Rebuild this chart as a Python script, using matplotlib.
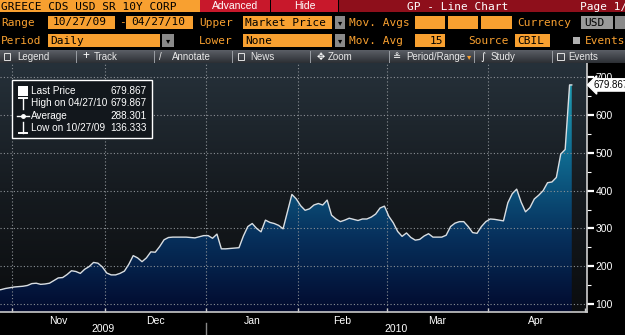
import numpy as np
import pandas as pd
import matplotlib
matplotlib.use("Agg")
import matplotlib.pyplot as plt
from matplotlib.patches import Rectangle
from matplotlib.colors import LinearSegmentedColormap

# Greece CDS USD SR 10Y, daily (business days) 10/27/09 - 04/27/10
start, end = "2009-10-27", "2010-04-27"
prices = [
    136.3, 138, 141, 143, 145, 146, 147, 149, 154, 155,
    152, 153, 155, 162, 169, 170, 178, 188, 186, 181,
    192, 199, 210, 208, 198, 182, 177, 177, 181, 187,
    205, 228, 222, 212, 222, 238, 237, 252, 270, 276,
    277, 277, 277, 277, 276, 275, 278, 281, 281, 274,
    285, 246, 246, 247, 248, 249, 280, 305, 313, 300,
    291, 322, 316, 313, 308, 299, 345, 390, 378, 360,
    348, 352, 362, 366, 362, 375, 335, 325, 318, 322,
    327, 324, 321, 325, 325, 330, 338, 354, 359, 332,
    315, 292, 279, 288, 276, 269, 271, 280, 286, 277,
    277, 277, 282, 305, 314, 318, 318, 305, 289, 287,
    305, 318, 325, 324, 322, 320, 368, 392, 404, 370,
    344, 355, 378, 388, 400, 421, 423, 435, 497, 509, 679.867,
]
month_names = ["Nov", "Dec", "Jan", "Feb", "Mar", "Apr"]
years = ["2009", "2010"]
y_ticks = [100, 200, 300, 400, 500, 600, 700]
legend_rows = [("Last Price", "679.867"), ("High on 04/27/10", "679.867"),
               ("Average", "288.301"), ("Low on 10/27/09", "136.333")]

ORANGE = "#f8a030"
W, H = 625, 335
mono = "DejaVu Sans Mono"
sans = "Liberation Sans"

days = pd.bdate_range(start, "2010-04-30")
idx = np.arange(len(prices))
y = np.array(prices)

# month boundaries (half a day before first business day of month)
firsts = [i for i in range(1, len(days)) if days[i].month != days[i - 1].month]
bounds = [f - 0.5 for f in firsts] + [len(days) - 0.5]
centers = [(bounds[k] + bounds[k + 1]) / 2 for k in range(len(bounds) - 1)]

px = 4.41  # pixels per business day
x0 = bounds[0] - 12 / px
x1 = bounds[-1] + 2 / px
ylo, yhi = 78.8, 737.9

fig = plt.figure(figsize=(W / 100, H / 100), dpi=100, facecolor="black")

def fpos(l, t, r, b):
    return [l / W, 1 - b / H, (r - l) / W, (b - t) / H]

ax = fig.add_axes(fpos(0, 63, 587, 312))
ax.set_facecolor("#0c0e10")

bg = LinearSegmentedColormap.from_list("bg", ["#0b0d0f", "#161b20", "#26313a"])
grad = np.linspace(0, 1, 256).reshape(-1, 1)
ax.imshow(grad, extent=[x0, x1, ylo, yhi], aspect="auto", origin="lower",
          cmap=bg, zorder=0)

fc = LinearSegmentedColormap.from_list("fc", ["#020a2e", "#07325e", "#0f6a90", "#22a2b7"])
xs = np.append(idx, idx[-1] + 0.5)
ys = np.append(y, y[-1])
poly = ax.fill_between(xs, ys, ylo, facecolor="none", edgecolor="none")
img = ax.imshow(grad, extent=[x0, x1, ylo, 700], aspect="auto", origin="lower",
                cmap=fc, zorder=1)
img.set_clip_path(poly.get_paths()[0], transform=ax.transData)
ax.plot(xs, ys, color="#d9dee2", lw=1.0, zorder=3)

for v in y_ticks:
    ax.axhline(v, color="#8c9196", lw=0.8, ls=(0, (1, 2)), zorder=2)
for b in bounds[:-1]:
    ax.axvline(b, color="#8c9196", lw=0.8, ls=(0, (1, 2)), zorder=2)

ax.set_xlim(x0, x1)
ax.set_ylim(ylo, yhi)

for s in ["top", "left"]:
    ax.spines[s].set_visible(False)
ax.spines["right"].set_color("#d0d0d0")
ax.spines["bottom"].set_color("#c8c8c8")
ax.spines["right"].set_linewidth(1.2)
ax.spines["bottom"].set_linewidth(1.2)

ax.yaxis.tick_right()
ax.set_yticks(y_ticks)
ax.set_yticks([v + 50 for v in y_ticks[:-1]], minor=True)
ax.tick_params(axis="y", which="major", direction="out", length=5, width=1.6,
               colors="white", labelsize=7.5, pad=1)
ax.tick_params(axis="y", which="minor", direction="out", length=3, width=0.8,
               colors="white")
for t in ax.get_yticklabels():
    t.set_family(sans)

ax.set_xticks(bounds)
ax.set_xticklabels([])
ax.set_xticks(centers, minor=True)
ax.set_xticklabels(month_names, minor=True, fontsize=7.5, family=sans, color="white")
ax.tick_params(axis="x", which="major", direction="in", length=3, width=1, colors="#d0d0d0")
ax.tick_params(axis="x", which="minor", length=0, pad=3)

ax.annotate("679.867", xy=(1.0, y[-1]), xycoords=("axes fraction", "data"),
            xytext=(5, 0), textcoords="offset points", va="center", ha="left",
            fontsize=7, family=sans, color="black", annotation_clip=False,
            bbox=dict(boxstyle="larrow,pad=0.12", fc="white", ec="white"))

# overlay in pixel coordinates for the terminal furniture
hud = fig.add_axes([0, 0, 1, 1], zorder=5)
hud.set_xlim(0, W)
hud.set_ylim(H, 0)
hud.axis("off")
hud.patch.set_alpha(0)

def box(l, t, r, b, fc, ec="none", lw=0, z=1):
    hud.add_patch(Rectangle((l, t), r - l, b - t, fc=fc, ec=ec, lw=lw, zorder=z))

def txt(x, yy, s, color="white", size=8, family=mono, ha="left", **kw):
    hud.text(x, yy, s, color=color, fontsize=size, family=family, ha=ha,
             va="center", **kw)

# year row under the month labels
jan = bounds[2]
yr_px = lambda v: (v - x0) / (x1 - x0) * 587
txt((0 + yr_px(jan)) / 2, 329, years[0], size=7.5, family=sans, ha="center")
txt((yr_px(jan) + 587) / 2, 329, years[1], size=7.5, family=sans, ha="center")
hud.plot([yr_px(jan)] * 2, [323, 335], color="#888888", lw=1)

# row 1
box(0, 0, 200, 12, ORANGE)
txt(1, 6.5, "GREECE CDS USD SR 10Y CORP", color="black", size=8)
box(200, 0, 270, 12, "#c8182b")
box(271, 0, 338, 12, "#c8182b")
box(339, 0, 625, 12, "#8e0f1b")
txt(235, 6, "Advanced", size=7.5, family=sans, ha="center")
txt(305, 6, "Hide", size=7.5, family=sans, ha="center")
txt(458, 6.5, "GP - Line Chart", size=8, ha="center")
txt(580, 6.5, "Page 1/", size=8)

# row 2
ry = 22.5
txt(1, ry, "Range", color=ORANGE)
box(48, 16, 115, 29, ORANGE)
txt(53, ry, "10/27/09", color="black")
txt(119, ry, "-", color=ORANGE)
box(126, 16, 193, 29, ORANGE)
txt(131, ry, "04/27/10", color="black")
txt(199, ry, "Upper", color=ORANGE)
box(243, 16, 332, 29, ORANGE)
txt(245, ry, "Market Price", color="black")
box(335, 16, 345, 29, "#8a8a8a")
txt(340, ry, "▾", color="black", size=6, family="DejaVu Sans", ha="center")
txt(349, ry, "Mov. Avgs", color=ORANGE)
for l, r in [(415, 445), (448, 478), (481, 512)]:
    box(l, 16, r, 29, ORANGE)
txt(517, ry, "Currency", color=ORANGE)
box(581, 16, 613, 29, "#9a9a9a")
txt(584, ry, "USD", color="black")
box(615, 16, 625, 29, "#8a8a8a")

# row 3
ry = 40.5
txt(1, ry, "Period", color=ORANGE)
box(48, 34, 160, 47, ORANGE)
txt(50, ry, "Daily", color="black")
box(162, 34, 174, 47, "#8a8a8a")
txt(168, ry, "▾", color="black", size=6, family="DejaVu Sans", ha="center")
txt(199, ry, "Lower", color=ORANGE)
box(243, 34, 332, 47, ORANGE)
txt(245, ry, "None", color="black")
box(335, 34, 345, 47, "#8a8a8a")
txt(340, ry, "▾", color="black", size=6, family="DejaVu Sans", ha="center")
txt(349, ry, "Mov. Avg", color=ORANGE)
box(415, 34, 445, 47, ORANGE)
txt(443, ry, "15", color="black", ha="right")
txt(468, ry, "Source", color=ORANGE)
box(515, 34, 550, 47, ORANGE)
txt(517, ry, "CBIL", color="black")
box(573, 37, 580, 44, "#b0b0b0")
txt(585, ry, "Events", color=ORANGE)

# toolbar
tb = LinearSegmentedColormap.from_list("tb", ["#2c2f34", "#5b5f66"])
hud.imshow(grad, extent=[0, W, 63, 50], aspect="auto", origin="lower", cmap=tb, zorder=1)
hud.set_xlim(0, W)
hud.set_ylim(H, 0)
for sx in [76, 154, 232, 310, 389, 474, 552]:
    hud.plot([sx, sx], [51, 62], color="#9a9ea4", lw=0.7, zorder=2)
tyy = 56.5
tool = dict(size=7, family=sans, color="#e8e8e8", zorder=3)
box(4, 53, 10, 60, "none", ec="#e0e0e0", lw=0.7, z=3)
txt(17, tyy, "Legend", **tool)
txt(82, tyy, "+", size=8.5, family=sans, color="white", zorder=3)
txt(94, tyy, "Track", **tool)
txt(159, tyy, "/", **tool)
txt(172, tyy, "Annotate", **tool)
box(238, 53, 244, 60, "none", ec="#e0e0e0", lw=0.7, z=3)
txt(250, tyy, "News", **tool)
txt(317, tyy, "✥", size=7, family="DejaVu Sans", color="white", zorder=3)
txt(328, tyy, "Zoom", **tool)
txt(393, tyy, "≗", size=7, family="DejaVu Sans", color="white", zorder=3)
txt(406, tyy, "Period/Range", **tool)
txt(467, tyy, "▾", size=6, family="DejaVu Sans", color=ORANGE, zorder=3)
txt(480, tyy, "∫", size=7, family="DejaVu Sans", color="white", zorder=3)
txt(491, tyy, "Study", **tool)
box(557, 53, 564, 60, "none", ec="#e0e0e0", lw=0.7, z=3)
txt(568, tyy, "Events", **tool)

# legend box
box(12, 80, 152, 138, "#12171c", ec="white", lw=1, z=4)
rows_y = [91, 103.5, 116, 128]
for (lab, val), ry in zip(legend_rows, rows_y):
    txt(31, ry, lab, size=7.2, family=sans, zorder=5)
    txt(147, ry, val, size=7.2, family=sans, ha="right", zorder=5)
box(18, 86, 28, 96, "white", z=5)
hud.plot([23, 23], [98, 109], color="white", lw=1, zorder=5)
hud.plot([19, 27], [98, 98], color="white", lw=1.4, zorder=5)
hud.plot([17, 29], [116, 116], color="white", lw=1, zorder=5)
hud.plot([23], [116], marker="o", ms=2.5, color="white", zorder=5)
hud.plot([23, 23], [122, 133], color="white", lw=1, zorder=5)
hud.plot([19, 27], [133, 133], color="white", lw=1.4, zorder=5)

fig.savefig("out.png", dpi=100, facecolor="black")
